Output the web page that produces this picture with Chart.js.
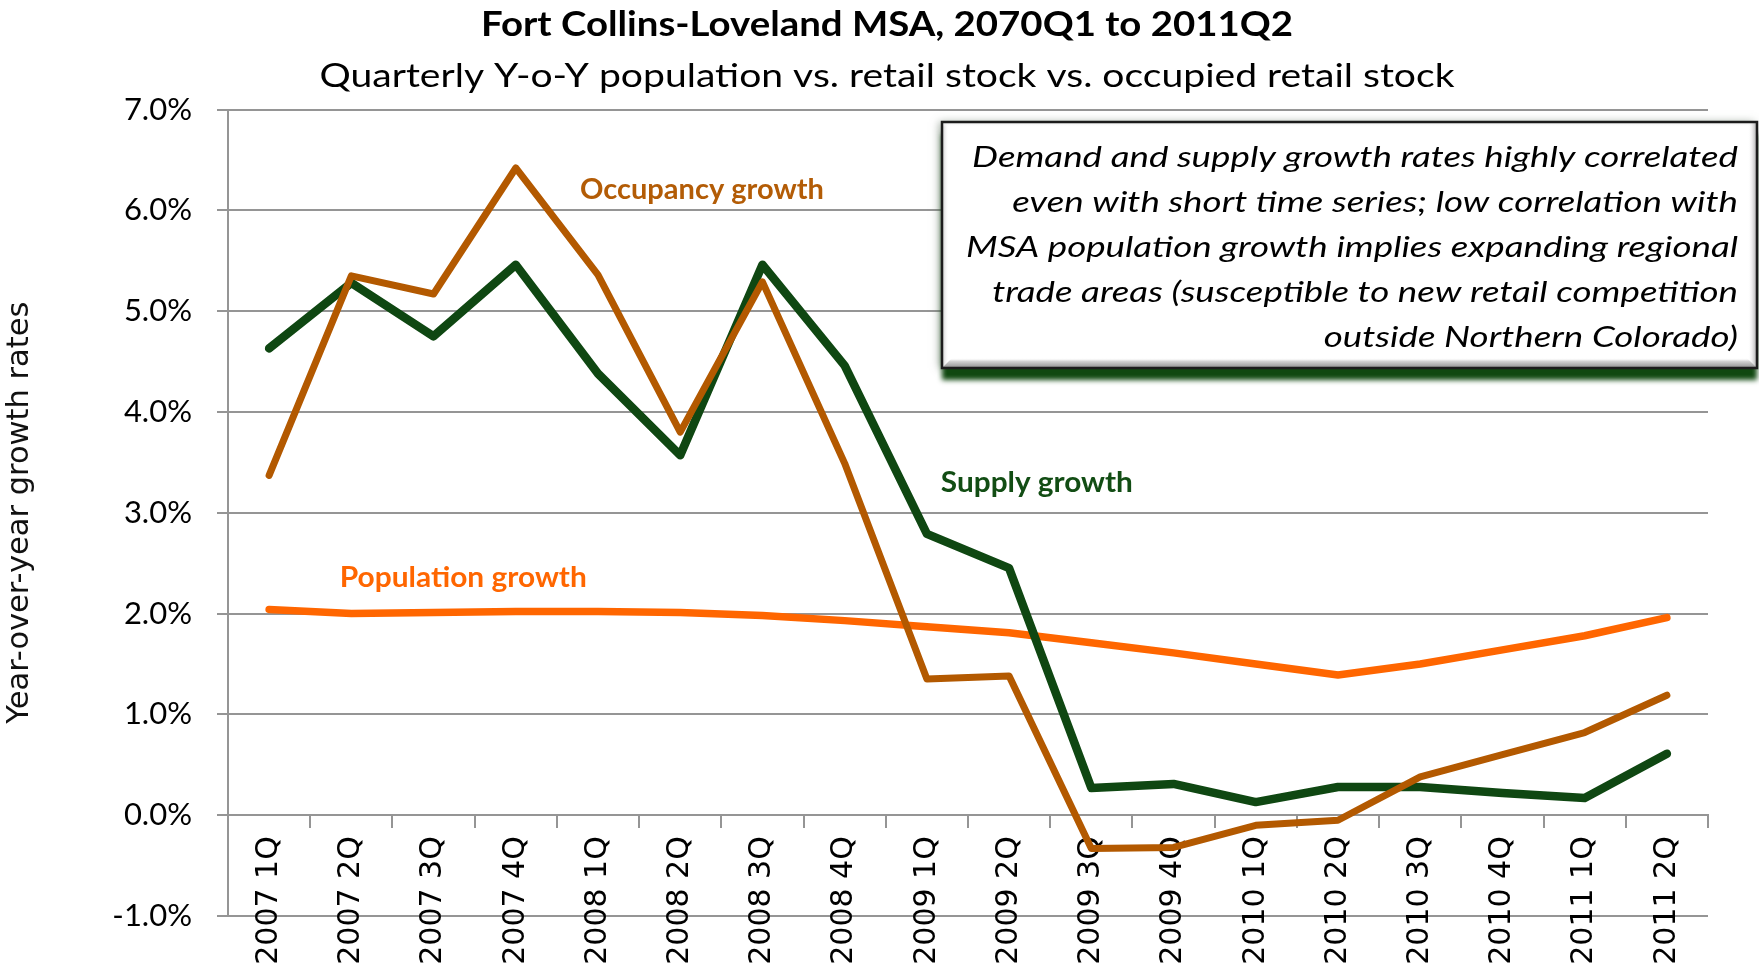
<!DOCTYPE html>
<html>
<head>
<meta charset="utf-8">
<script src="https://cdn.jsdelivr.net/npm/chart.js@4/dist/chart.umd.min.js"></script>
<style>
  html, body { margin: 0; padding: 0; background: #ffffff; }
  #wrap { width: 1759px; height: 970px; position: relative; }
</style>
</head>
<body>
<div id="wrap"><canvas id="c"></canvas></div>
<script>
// ---------------- data ----------------
const categories = ['2007 1Q','2007 2Q','2007 3Q','2007 4Q','2008 1Q','2008 2Q','2008 3Q','2008 4Q',
  '2009 1Q','2009 2Q','2009 3Q','2009 4Q','2010 1Q','2010 2Q','2010 3Q','2010 4Q','2011 1Q','2011 2Q'];
const populationGrowth = [2.04, 2.00, 2.01, 2.02, 2.02, 2.01, 1.98, 1.93, 1.87, 1.81, 1.71, 1.61, 1.50, 1.39, 1.50, 1.64, 1.78, 1.96];
const supplyGrowth     = [4.63, 5.28, 4.75, 5.46, 4.38, 3.57, 5.46, 4.46, 2.79, 2.45, 0.27, 0.31, 0.13, 0.28, 0.28, 0.22, 0.17, 0.61];
const occupancyGrowth  = [3.37, 5.35, 5.17, 6.42, 5.36, 3.80, 5.29, 3.49, 1.35, 1.38, -0.33, -0.32, -0.10, -0.05, 0.38, 0.60, 0.82, 1.19];
const yTickValues = [-1, 0, 1, 2, 3, 4, 5, 6, 7];
const seriesNames = ['Population growth', 'Supply growth', 'Occupancy growth'];
const titleText = 'Fort Collins-Loveland MSA, 2070Q1 to 2011Q2';
const subtitleText = 'Quarterly Y-o-Y population vs. retail stock vs. occupied retail stock';
const yAxisTitle = 'Year-over-year growth rates';
const noteLines = [
  'Demand and supply growth rates highly correlated',
  'even with short time series; low correlation with',
  'MSA population growth implies expanding regional',
  'trade areas (susceptible to new retail competition',
  'outside Northern Colorado)'
];

// ---------------- styles ----------------
const C_POP = '#ff6600';
const C_SUP = '#0f4712';
const C_OCC = '#b35900';
const GRID = '#959595';
const SANS = 'Lato, Carlito, "Open Sans", sans-serif';
const WIDE = '"DejaVu Sans", Verdana, sans-serif';

function fitText(ctx, text, x, y, w, font, color, align) {
  ctx.save();
  ctx.font = font;
  ctx.fillStyle = color;
  ctx.textBaseline = 'alphabetic';
  ctx.textAlign = align;
  const m = ctx.measureText(text).width;
  const sx = w / m;
  ctx.translate(x, y);
  ctx.scale(sx, 1);
  ctx.fillText(text, 0, 0);
  ctx.restore();
}

const annotations = {
  id: 'annotations',
  afterDraw(chart) {
    const ctx = chart.ctx;
    const xs = chart.scales.x, ys = chart.scales.y;
    // Title + subtitle
    fitText(ctx, titleText, 887, 36, 812, 'bold 34px ' + SANS, '#000', 'center');
    fitText(ctx, subtitleText, 887, 87, 1135, '33.5px ' + SANS, '#000', 'center');

    // Series labels (anchored in data space)
    const lab = [
      { t: seriesNames[2], c: '#b35c06', i: 3.78, v: 6.11, w: 244 },
      { t: seriesNames[1], c: '#124d14', i: 8.17, v: 3.21, w: 192 },
      { t: seriesNames[0], c: '#ff6600', i: 0.86, v: 2.26, w: 247 }
    ];
    const step = xs.getPixelForValue(1) - xs.getPixelForValue(0);
    lab.forEach(l => {
      const px = xs.getPixelForValue(0) + l.i * step;
      const py = ys.getPixelForValue(l.v);
      fitText(ctx, l.t, px, py, l.w, 'bold 28px ' + SANS, l.c, 'left');
    });

    // Note box
    const bx = 942, by = 122, bw = 815, bh = 246;
    // soft grey halo on the left
    ctx.save();
    ctx.shadowColor = 'rgba(90,110,90,0.55)';
    ctx.shadowBlur = 8;
    ctx.shadowOffsetX = -3;
    ctx.shadowOffsetY = 0;
    ctx.fillStyle = '#ffffff';
    ctx.fillRect(bx, by, bw, bh);
    ctx.restore();
    // dark green drop shadow below
    ctx.save();
    ctx.shadowColor = 'rgb(16,72,16)';
    ctx.shadowBlur = 5;
    ctx.shadowOffsetX = 0;
    ctx.shadowOffsetY = 12;
    ctx.fillStyle = '#ffffff';
    ctx.fillRect(bx, by, bw, bh);
    ctx.restore();
    // bevel bands
    ctx.save();
    let g;
    g = ctx.createLinearGradient(bx, 0, bx + 7, 0);
    g.addColorStop(0, '#c4c4c4'); g.addColorStop(1, 'rgba(255,255,255,0)');
    ctx.fillStyle = g; ctx.fillRect(bx, by, 7, bh);
    g = ctx.createLinearGradient(0, by, 0, by + 5);
    g.addColorStop(0, '#e4e4e4'); g.addColorStop(1, 'rgba(255,255,255,0)');
    ctx.fillStyle = g; ctx.fillRect(bx, by, bw, 5);
    g = ctx.createLinearGradient(bx + bw - 9, 0, bx + bw, 0);
    g.addColorStop(0, 'rgba(255,255,255,0)'); g.addColorStop(1, '#a0a0a0');
    ctx.fillStyle = g; ctx.fillRect(bx + bw - 9, by, 9, bh);
    g = ctx.createLinearGradient(0, by + bh - 10, 0, by + bh);
    g.addColorStop(0, 'rgba(255,255,255,0)'); g.addColorStop(0.3, '#d6d6d6'); g.addColorStop(1, '#8e8e8e');
    ctx.fillStyle = g;
    ctx.beginPath();
    ctx.moveTo(bx, by + bh);
    ctx.lineTo(bx + 10, by + bh - 10);
    ctx.lineTo(bx + bw - 10, by + bh - 10);
    ctx.lineTo(bx + bw, by + bh);
    ctx.closePath();
    ctx.fill();
    ctx.strokeStyle = '#1c1c1c';
    ctx.lineWidth = 2.5;
    ctx.strokeRect(bx, by, bw, bh);
    ctx.restore();

    // Note text (italic, right aligned)
    ctx.save();
    ctx.font = 'italic 29px ' + SANS;
    const sx = 766 / ctx.measureText(noteLines[0]).width;
    ctx.fillStyle = '#000';
    ctx.textAlign = 'right';
    ctx.textBaseline = 'alphabetic';
    noteLines.forEach((line, k) => {
      ctx.save();
      ctx.translate(1738, 167 + k * 45);
      ctx.scale(sx, 1);
      ctx.fillText(line, 0, 0);
      ctx.restore();
    });
    ctx.restore();
  }
};

const chart = new Chart(document.getElementById('c'), {
  type: 'line',
  data: {
    labels: categories,
    datasets: [
      { label: seriesNames[0], data: populationGrowth, borderColor: C_POP, borderWidth: 7.5, order: 3 },
      { label: seriesNames[1], data: supplyGrowth, borderColor: C_SUP, borderWidth: 8.5, order: 2 },
      { label: seriesNames[2], data: occupancyGrowth, borderColor: C_OCC, borderWidth: 7, order: 1 }
    ]
  },
  options: {
    responsive: true,
    maintainAspectRatio: false,
    animation: false,
    devicePixelRatio: 1,
    layout: { padding: { top: 109.5, right: 51, bottom: 54, left: 0 } },
    elements: {
      line: { tension: 0, fill: false, borderCapStyle: 'round', borderJoinStyle: 'round' },
      point: { radius: 0, hoverRadius: 0 }
    },
    plugins: {
      legend: { display: false },
      tooltip: { enabled: false },
      title: { display: false }
    },
    scales: {
      x: {
        type: 'category',
        position: { y: 0 },
        offset: true,
        grid: { display: true, drawOnChartArea: false, offset: true, drawTicks: true,
                tickLength: 12, color: GRID, tickColor: GRID, lineWidth: 2 },
        border: { display: true, color: GRID, width: 2 },
        ticks: {
          autoSkip: false, maxRotation: 90, minRotation: 90, padding: 9,
          color: '#000', font: { family: WIDE, size: 30 }
        }
      },
      y: {
        type: 'linear',
        position: 'left',
        min: -1, max: 7,
        afterBuildTicks: s => { s.ticks = yTickValues.map(v => ({ value: v })); },
        afterFit: s => { s.width = 228; },
        grid: { color: GRID, tickColor: GRID, lineWidth: 2, tickLength: 11, drawTicks: true },
        border: { display: true, color: GRID, width: 2 },
        ticks: {
          padding: 25, color: '#000',
          font: { family: SANS, size: 31 },
          callback: v => Number(v).toFixed(1) + '%'
        },
        title: {
          display: true, text: yAxisTitle, color: '#111',
          font: { family: WIDE, size: 30.5 },
          padding: { top: 2, bottom: 0 }
        }
      }
    }
  },
  plugins: [annotations]
});
</script>
</body>
</html>
